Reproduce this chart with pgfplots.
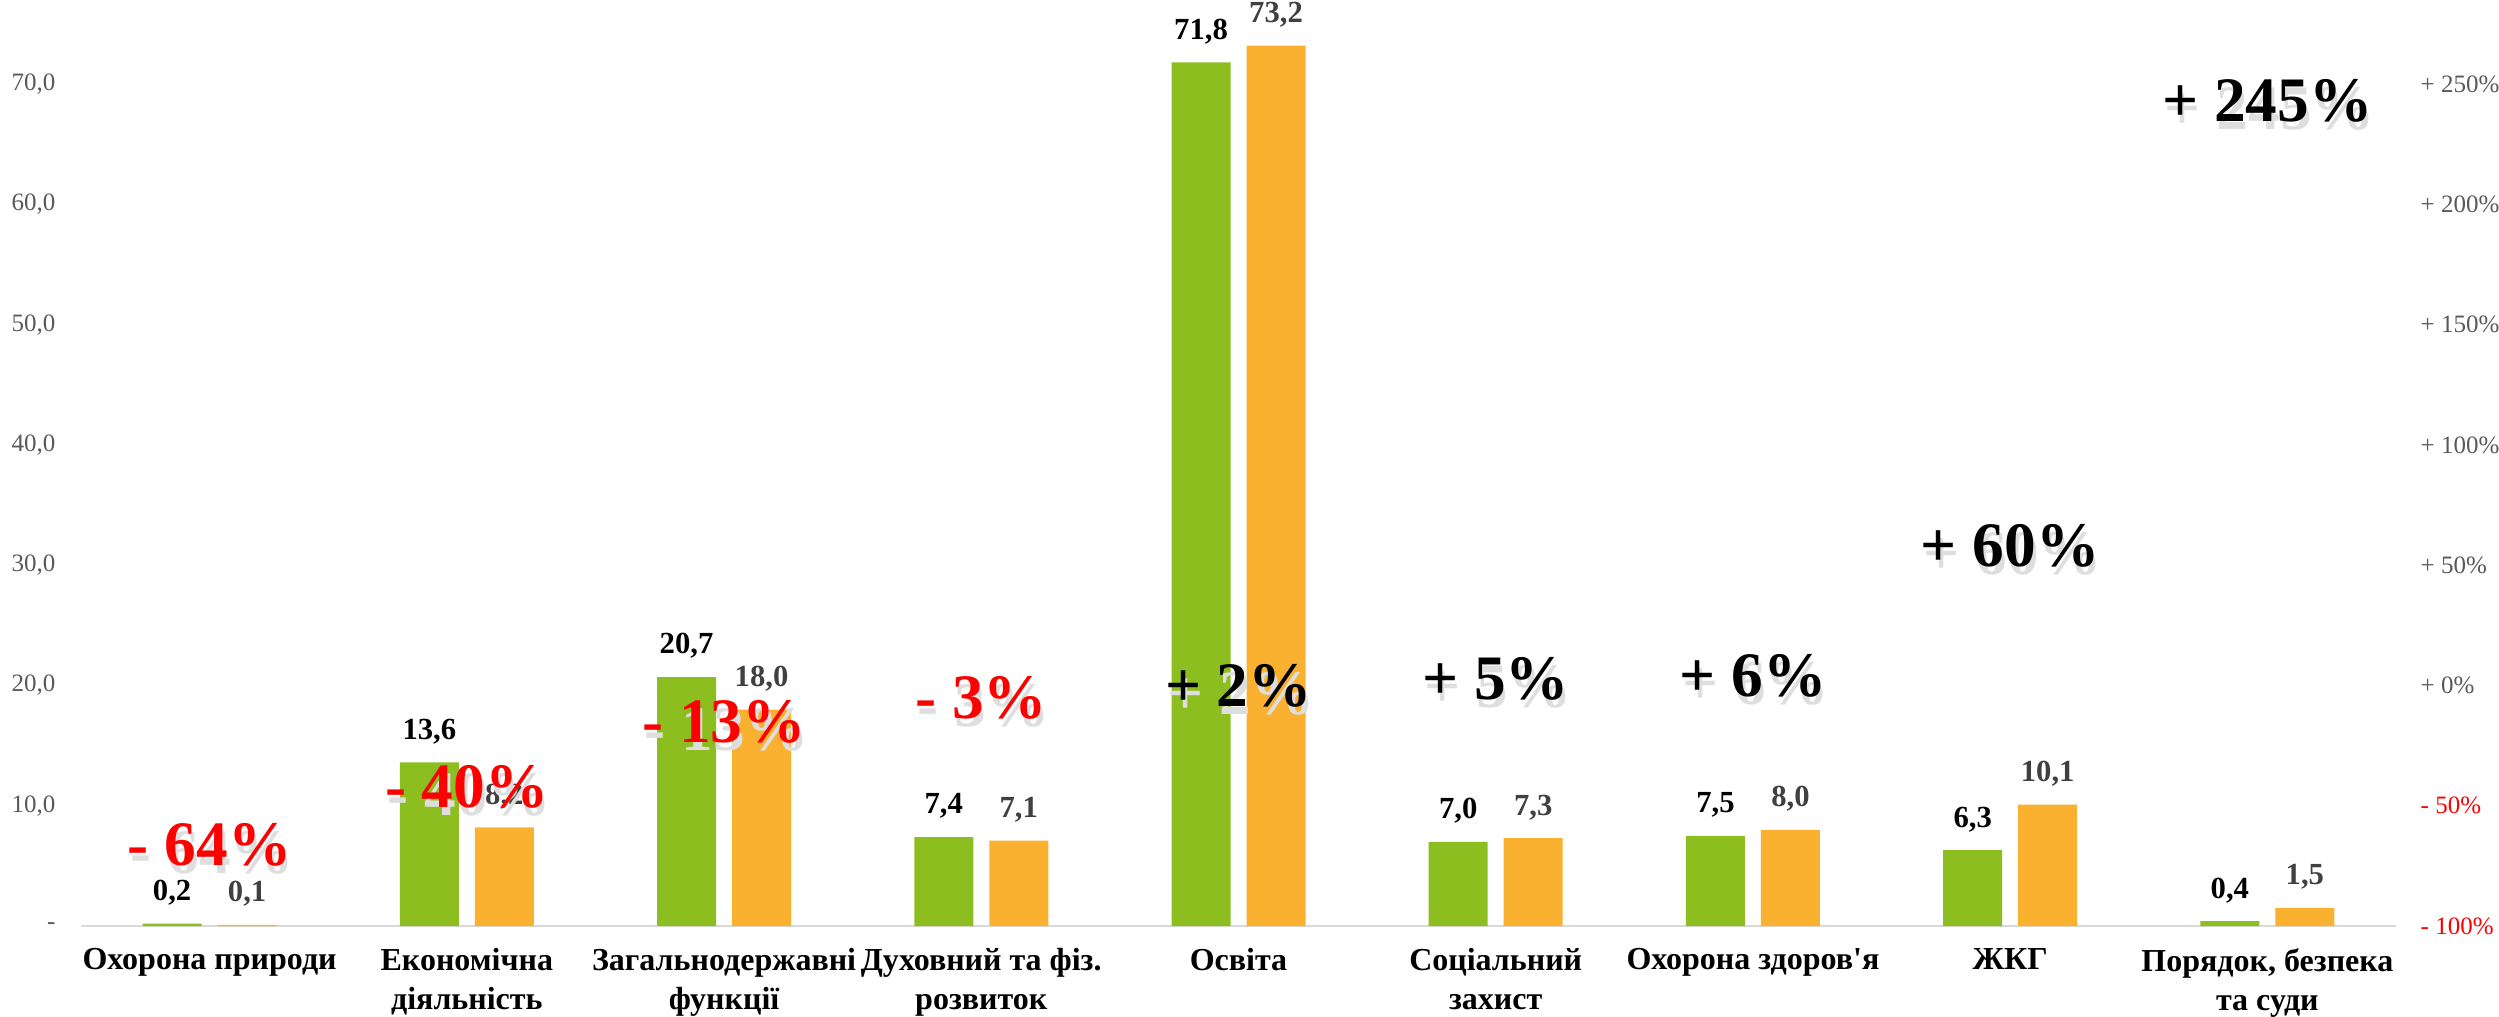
\documentclass[border=0pt]{standalone}
\usepackage{fontspec}
\setmainfont{Liberation Serif}
\usepackage{pgfplots}
\pgfplotsset{compat=1.18}
\definecolor{grn}{RGB}{140,190,31}
\definecolor{org}{RGB}{251,177,48}
\definecolor{tickc}{RGB}{89,89,89}
\definecolor{lblc}{RGB}{64,64,64}
\definecolor{redc}{RGB}{255,0,0}

\begin{document}
\begin{tikzpicture}
\begin{axis}[name=ax,
  scale only axis, width=694.5pt, height=270.6pt,
  xmin=-0.5, xmax=8.5, ymin=0, ymax=75,
  ybar=4.8pt, bar width=17.7pt,
  axis x line*=bottom, axis y line*=left,
  x axis line style={draw=black!15, line width=0.8pt},
  y axis line style={draw=none},
  major tick length=0pt,
  xtick={0,...,8},
  xticklabels={Охорона природи, Економічна\\діяльність, Загальнодержавні\\функції,
    Духовний та фіз.\\розвиток, Освіта, Соціальний\\захист,
    Охорона здоров\textquotesingle я, ЖКГ,
    {Порядок, безпека\\та суди}},
  xticklabel style={align=center, anchor=north, inner sep=0pt, yshift=-6.5pt,
    font=\bfseries\fontsize{9.6}{11.8}\selectfont},
  ytick={0,10,...,70},
  yticklabels={-\hspace{5pt}, {10,0}, {20,0}, {30,0}, {40,0}, {50,0}, {60,0}, {70,0}},
  yticklabel style={anchor=east, inner sep=0pt, xshift=-7.5pt, text=tickc,
    font=\fontsize{7.5}{9}\selectfont},
  nodes near coords, point meta=explicit symbolic,
  every node near coord/.append style={font=\bfseries\fontsize{9.2}{10}\selectfont, yshift=2pt},
  clip=false,
]
\addplot[fill=grn, draw=none, nodes near coords style={text=black}] coordinates {
  (0,0.2)[0,2] (1,13.6)[13,6] (2,20.7)[20,7] (3,7.4)[7,4] (4,71.8)[71,8]
  (5,7.0)[7,0] (6,7.5)[7,5] (7,6.3)[6,3] (8,0.4)[0,4]
};
\addplot[fill=org, draw=none, nodes near coords style={text=lblc}] coordinates {
  (0,0.1)[0,1] (1,8.2)[8,2] (2,18.0)[18,0] (3,7.1)[7,1] (4,73.2)[73,2]
  (5,7.3)[7,3] (6,8.0)[8,0] (7,10.1)[10,1] (8,1.5)[1,5]
};
\end{axis}
\begin{axis}[
  scale only axis, width=694.5pt, height=270.6pt,
  xmin=-0.5, xmax=8.5, ymin=-100, ymax=275,
  axis x line=none, axis y line*=right,
  y axis line style={draw=none},
  major tick length=0pt,
  ytick={-100,-50,...,250},
  yticklabels={\textcolor{redc}{- 100\%}, \textcolor{redc}{- 50\%}, + 0\%, + 50\%,
    + 100\%, + 150\%, + 200\%, + 250\%},
  yticklabel style={anchor=west, inner sep=0pt, xshift=7.2pt, text=tickc,
    font=\fontsize{7.5}{9}\selectfont},
  nodes near coords, point meta=explicit symbolic,
  every node near coord/.append style={anchor=center, yshift=-1.5pt,
    font=\bfseries\fontsize{19}{22}\selectfont},
  clip=false,
]
% soft shadow copies
\addplot[draw=none, mark=none,
  nodes near coords style={text=black!13, xshift=0.8pt, yshift=-2.4pt}] coordinates {
  (0,-64)[- 64\%] (1,-40)[- 40\%] (2,-13)[- 13\%] (3,-3)[- 3\%]
  (4,2)[+ 2\%] (5,5)[+ 5\%] (6,6)[+ 6\%] (7,60)[+ 60\%] (8,245)[+ 245\%]
};
\addplot[draw=none, mark=none, nodes near coords style={text=redc}] coordinates {
  (0,-64)[- 64\%] (1,-40)[- 40\%] (2,-13)[- 13\%] (3,-3)[- 3\%]
};
\addplot[draw=none, mark=none, nodes near coords style={text=black}] coordinates {
  (4,2)[+ 2\%] (5,5)[+ 5\%] (6,6)[+ 6\%] (7,60)[+ 60\%] (8,245)[+ 245\%]
};
\end{axis}
\path (ax.south west) ++(-24.3pt,-27pt) coordinate (bbA);
\path (ax.north east) ++(30.9pt,7.2pt) coordinate (bbB);
\pgfresetboundingbox
\path[use as bounding box] (bbA) rectangle (bbB);
\end{tikzpicture}
\end{document}
